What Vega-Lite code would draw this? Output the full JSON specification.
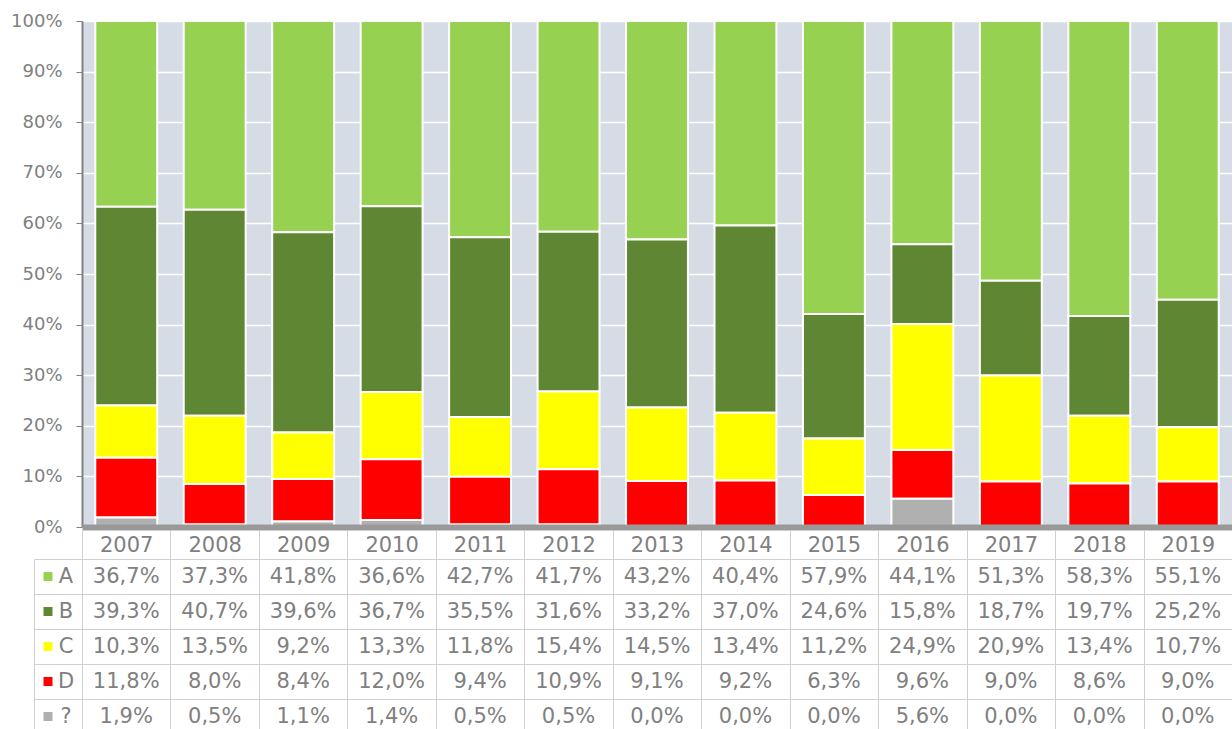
{
  "$schema": "https://vega.github.io/schema/vega-lite/v6.json",
  "padding": {"left": 10, "top": 12, "right": 0, "bottom": 0},
  "background": "white",
  "config": {
    "font": "DejaVu Sans",
    "view": {"stroke": null},
    "locale": {"number": {"decimal": ",", "thousands": ".", "grouping": [3], "currency": ["", " €"]}},
    "axis": {"labelFont": "DejaVu Sans", "labelColor": "#808080", "title": null}
  },
  "datasets": {
    "d": [
      {"year": "2007", "s": "A", "v": 0.367}, {"year": "2007", "s": "B", "v": 0.393}, {"year": "2007", "s": "C", "v": 0.103}, {"year": "2007", "s": "D", "v": 0.118}, {"year": "2007", "s": "?", "v": 0.019},
      {"year": "2008", "s": "A", "v": 0.373}, {"year": "2008", "s": "B", "v": 0.407}, {"year": "2008", "s": "C", "v": 0.135}, {"year": "2008", "s": "D", "v": 0.080}, {"year": "2008", "s": "?", "v": 0.005},
      {"year": "2009", "s": "A", "v": 0.418}, {"year": "2009", "s": "B", "v": 0.396}, {"year": "2009", "s": "C", "v": 0.092}, {"year": "2009", "s": "D", "v": 0.084}, {"year": "2009", "s": "?", "v": 0.011},
      {"year": "2010", "s": "A", "v": 0.366}, {"year": "2010", "s": "B", "v": 0.367}, {"year": "2010", "s": "C", "v": 0.133}, {"year": "2010", "s": "D", "v": 0.120}, {"year": "2010", "s": "?", "v": 0.014},
      {"year": "2011", "s": "A", "v": 0.427}, {"year": "2011", "s": "B", "v": 0.355}, {"year": "2011", "s": "C", "v": 0.118}, {"year": "2011", "s": "D", "v": 0.094}, {"year": "2011", "s": "?", "v": 0.005},
      {"year": "2012", "s": "A", "v": 0.417}, {"year": "2012", "s": "B", "v": 0.316}, {"year": "2012", "s": "C", "v": 0.154}, {"year": "2012", "s": "D", "v": 0.109}, {"year": "2012", "s": "?", "v": 0.005},
      {"year": "2013", "s": "A", "v": 0.432}, {"year": "2013", "s": "B", "v": 0.332}, {"year": "2013", "s": "C", "v": 0.145}, {"year": "2013", "s": "D", "v": 0.091}, {"year": "2013", "s": "?", "v": 0.0},
      {"year": "2014", "s": "A", "v": 0.404}, {"year": "2014", "s": "B", "v": 0.370}, {"year": "2014", "s": "C", "v": 0.134}, {"year": "2014", "s": "D", "v": 0.092}, {"year": "2014", "s": "?", "v": 0.0},
      {"year": "2015", "s": "A", "v": 0.579}, {"year": "2015", "s": "B", "v": 0.246}, {"year": "2015", "s": "C", "v": 0.112}, {"year": "2015", "s": "D", "v": 0.063}, {"year": "2015", "s": "?", "v": 0.0},
      {"year": "2016", "s": "A", "v": 0.441}, {"year": "2016", "s": "B", "v": 0.158}, {"year": "2016", "s": "C", "v": 0.249}, {"year": "2016", "s": "D", "v": 0.096}, {"year": "2016", "s": "?", "v": 0.056},
      {"year": "2017", "s": "A", "v": 0.513}, {"year": "2017", "s": "B", "v": 0.187}, {"year": "2017", "s": "C", "v": 0.209}, {"year": "2017", "s": "D", "v": 0.090}, {"year": "2017", "s": "?", "v": 0.0},
      {"year": "2018", "s": "A", "v": 0.583}, {"year": "2018", "s": "B", "v": 0.197}, {"year": "2018", "s": "C", "v": 0.134}, {"year": "2018", "s": "D", "v": 0.086}, {"year": "2018", "s": "?", "v": 0.0},
      {"year": "2019", "s": "A", "v": 0.551}, {"year": "2019", "s": "B", "v": 0.252}, {"year": "2019", "s": "C", "v": 0.107}, {"year": "2019", "s": "D", "v": 0.090}, {"year": "2019", "s": "?", "v": 0.0}
    ]
  },
  "spacing": -7,
  "vconcat": [
    {
      "width": 1150,
      "height": 506,
      "view": {"fill": "#D6DCE5", "stroke": null},
      "data": {"name": "d"},
      "transform": [{"calculate": "indexof(['?','D','C','B','A'], datum.s)", "as": "o"}],
      "mark": {"type": "bar", "stroke": "white", "strokeWidth": 2},
      "encoding": {
        "x": {
          "field": "year", "type": "nominal",
          "scale": {"paddingInner": 0.3, "paddingOuter": 0.15},
          "axis": {"labels": false, "ticks": false, "grid": false, "domainColor": "#999999", "domainWidth": 6, "zindex": 1, "title": null}
        },
        "y": {
          "field": "v", "type": "quantitative", "stack": "normalize",
          "scale": {"domain": [0, 1], "nice": false},
          "axis": {
            "values": [0, 0.1, 0.2, 0.3, 0.4, 0.5, 0.6, 0.7, 0.8, 0.9, 1],
            "format": ".0%", "labelFontSize": 18, "labelPadding": 14, "tickSize": 6,
            "tickColor": "#808080", "domainColor": "#808080", "domainWidth": 2,
            "grid": true, "gridColor": "#FFFFFF", "gridWidth": 1.5, "title": null
          }
        },
        "color": {
          "field": "s", "type": "nominal",
          "scale": {"domain": ["A", "B", "C", "D", "?"], "range": ["#97D152", "#5F8733", "#FFFF00", "#FF0000", "#B0B0B0"]},
          "legend": null
        },
        "order": {"field": "o", "type": "quantitative"}
      }
    },
    {
      "width": 1150,
      "height": 175,
      "data": {"name": "d"},
      "encoding": {
        "x": {
          "field": "year", "type": "nominal",
          "scale": {"paddingInner": 0, "paddingOuter": 0},
          "axis": {
            "orient": "top", "labelFontSize": 21, "labelBaseline": "middle", "labelPadding": -15,
            "labelAngle": 0, "tickBand": "extent", "tickSize": 29, "tickColor": "#D0D0D0",
            "domain": false, "grid": true, "gridColor": "#D0D0D0", "title": null
          }
        }
      },
      "layer": [
        {
          "mark": {"type": "text", "fontSize": 21, "color": "#808080", "font": "DejaVu Sans"},
          "encoding": {
            "text": {"field": "v", "type": "quantitative", "format": ".1%"},
            "y": {
              "field": "s", "type": "nominal",
              "scale": {"domain": ["A", "B", "C", "D", "?"], "paddingInner": 0, "paddingOuter": 0},
              "axis": {
                "orient": "left", "labelFontSize": 21, "labelAlign": "center", "labelPadding": -31.5,
                "tickBand": "extent", "tickSize": 48, "tickColor": "#D0D0D0",
                "domain": false, "grid": true, "gridColor": "#D0D0D0", "title": null
              }
            }
          }
        },
        {
          "mark": {"type": "text", "text": ""},
          "encoding": {
            "y": {
              "field": "s", "type": "nominal",
              "axis": {
                "orient": "left", "offset": 30, "labels": false, "domain": false, "grid": false,
                "tickSize": 9, "tickWidth": 9,
                "tickColor": {
                  "condition": [
                    {"test": "datum.value === 'A'", "value": "#97D152"},
                    {"test": "datum.value === 'B'", "value": "#5F8733"},
                    {"test": "datum.value === 'C'", "value": "#FFFF00"},
                    {"test": "datum.value === 'D'", "value": "#FF0000"}
                  ],
                  "value": "#B0B0B0"
                },
                "title": null
              }
            }
          }
        },
        {
          "mark": {"type": "text", "text": ""},
          "encoding": {
            "y": {
              "field": "s", "type": "nominal",
              "axis": {
                "orient": "left", "offset": 48, "labels": false, "ticks": false, "grid": false,
                "domain": true, "domainColor": "#D0D0D0", "title": null
              }
            }
          }
        }
      ],
      "resolve": {"axis": {"y": "independent"}}
    }
  ]
}
